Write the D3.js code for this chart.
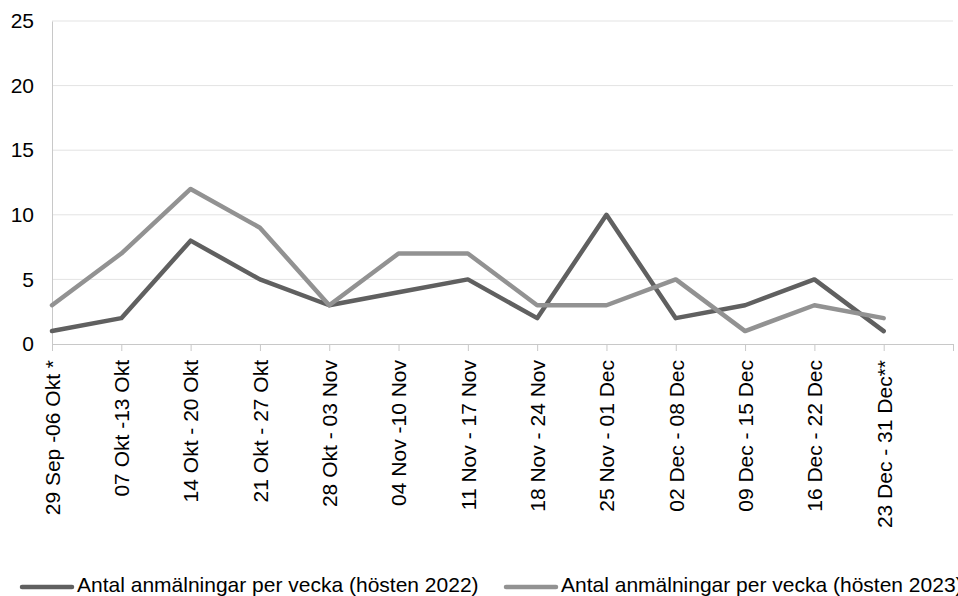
<!DOCTYPE html>
<html>
<head>
<meta charset="utf-8">
<script src="https://cdn.jsdelivr.net/npm/d3@7"></script>
<style>
  body { margin: 0; background: #fff; overflow: hidden; }
  svg { font-family: "Liberation Sans", Arial, sans-serif; }
</style>
</head>
<body>
<div id="chart"></div>
<script>
const categories = [
  "29 Sep -06 Okt *", "07 Okt -13 Okt", "14 Okt - 20 Okt", "21 Okt - 27 Okt",
  "28 Okt - 03 Nov", "04 Nov -10 Nov", "11 Nov - 17 Nov", "18 Nov - 24 Nov",
  "25 Nov - 01 Dec", "02 Dec - 08 Dec", "09 Dec - 15 Dec", "16 Dec - 22 Dec",
  "23 Dec - 31 Dec**"
];
const values2022 = [1, 2, 8, 5, 3, 4, 5, 2, 10, 2, 3, 5, 1];
const values2023 = [3, 7, 12, 9, 3, 7, 7, 3, 3, 5, 1, 3, 2];
const yTicks = [0, 5, 10, 15, 20, 25];
const seriesNames = [
  "Antal anmälningar per vecka (hösten 2022)",
  "Antal anmälningar per vecka (hösten 2023)"
];

const width = 958, height = 596;
const margin = { left: 52, right: 5, top: 21, bottom: 252 };

const svg = d3.select("#chart").append("svg")
  .attr("width", width)
  .attr("height", height);

// one extra empty slot at the end, like the original
const slots = categories.concat([""]);
const x = d3.scalePoint()
  .domain(d3.range(slots.length))
  .range([margin.left, width - margin.right]);

const y = d3.scaleLinear()
  .domain([0, 25])
  .range([height - margin.bottom, margin.top]);

// grid lines
svg.append("g")
  .selectAll("line")
  .data(yTicks.filter(d => d > 0))
  .join("line")
  .attr("x1", margin.left)
  .attr("x2", width - margin.right)
  .attr("y1", d => y(d))
  .attr("y2", d => y(d))
  .attr("stroke", "#e3e3e3")
  .attr("stroke-width", 1);

// y axis
const yAxis = svg.append("g")
  .attr("transform", `translate(${margin.left},0)`)
  .call(d3.axisLeft(y).tickValues(yTicks).tickSize(0).tickPadding(18));
yAxis.select(".domain").attr("stroke", "#c8c8c8");
yAxis.selectAll("text")
  .attr("fill", "#000")
  .style("font-size", "21px")
  .style("font-family", "Liberation Sans, Arial, sans-serif");

// x axis
const xAxis = svg.append("g")
  .attr("transform", `translate(0,${y(0)})`)
  .call(d3.axisBottom(x).tickSize(7).tickFormat(i => slots[i]));
xAxis.select(".domain").attr("stroke", "#c8c8c8");
xAxis.selectAll(".tick line").attr("stroke", "#c8c8c8");
xAxis.selectAll("text")
  .attr("fill", "#000")
  .style("font-size", "21px")
  .style("font-family", "Liberation Sans, Arial, sans-serif")
  .attr("text-anchor", "end")
  .attr("transform", "rotate(-90)")
  .attr("x", -16)
  .attr("y", 0)
  .attr("dy", "0.35em");

const line = d3.line()
  .x((d, i) => x(i))
  .y(d => y(d));

svg.append("path")
  .datum(values2022)
  .attr("d", line)
  .attr("fill", "none")
  .attr("stroke", "#606060")
  .attr("stroke-width", 4.5)
  .attr("stroke-linejoin", "round")
  .attr("stroke-linecap", "round");

svg.append("path")
  .datum(values2023)
  .attr("d", line)
  .attr("fill", "none")
  .attr("stroke", "#929292")
  .attr("stroke-width", 4.5)
  .attr("stroke-linejoin", "round")
  .attr("stroke-linecap", "round");

// legend
const legendItems = [
  { name: seriesNames[0], color: "#606060", x: 22 },
  { name: seriesNames[1], color: "#929292", x: 506 }
];
const legend = svg.append("g");
legendItems.forEach(item => {
  legend.append("line")
    .attr("x1", item.x)
    .attr("x2", item.x + 50)
    .attr("y1", 587)
    .attr("y2", 587)
    .attr("stroke", item.color)
    .attr("stroke-width", 4.5)
    .attr("stroke-linecap", "round");
  legend.append("text")
    .attr("x", item.x + 55)
    .attr("y", 592)
    .style("font-size", "21px")
    .attr("fill", "#000")
    .text(item.name);
});
</script>
</body>
</html>
